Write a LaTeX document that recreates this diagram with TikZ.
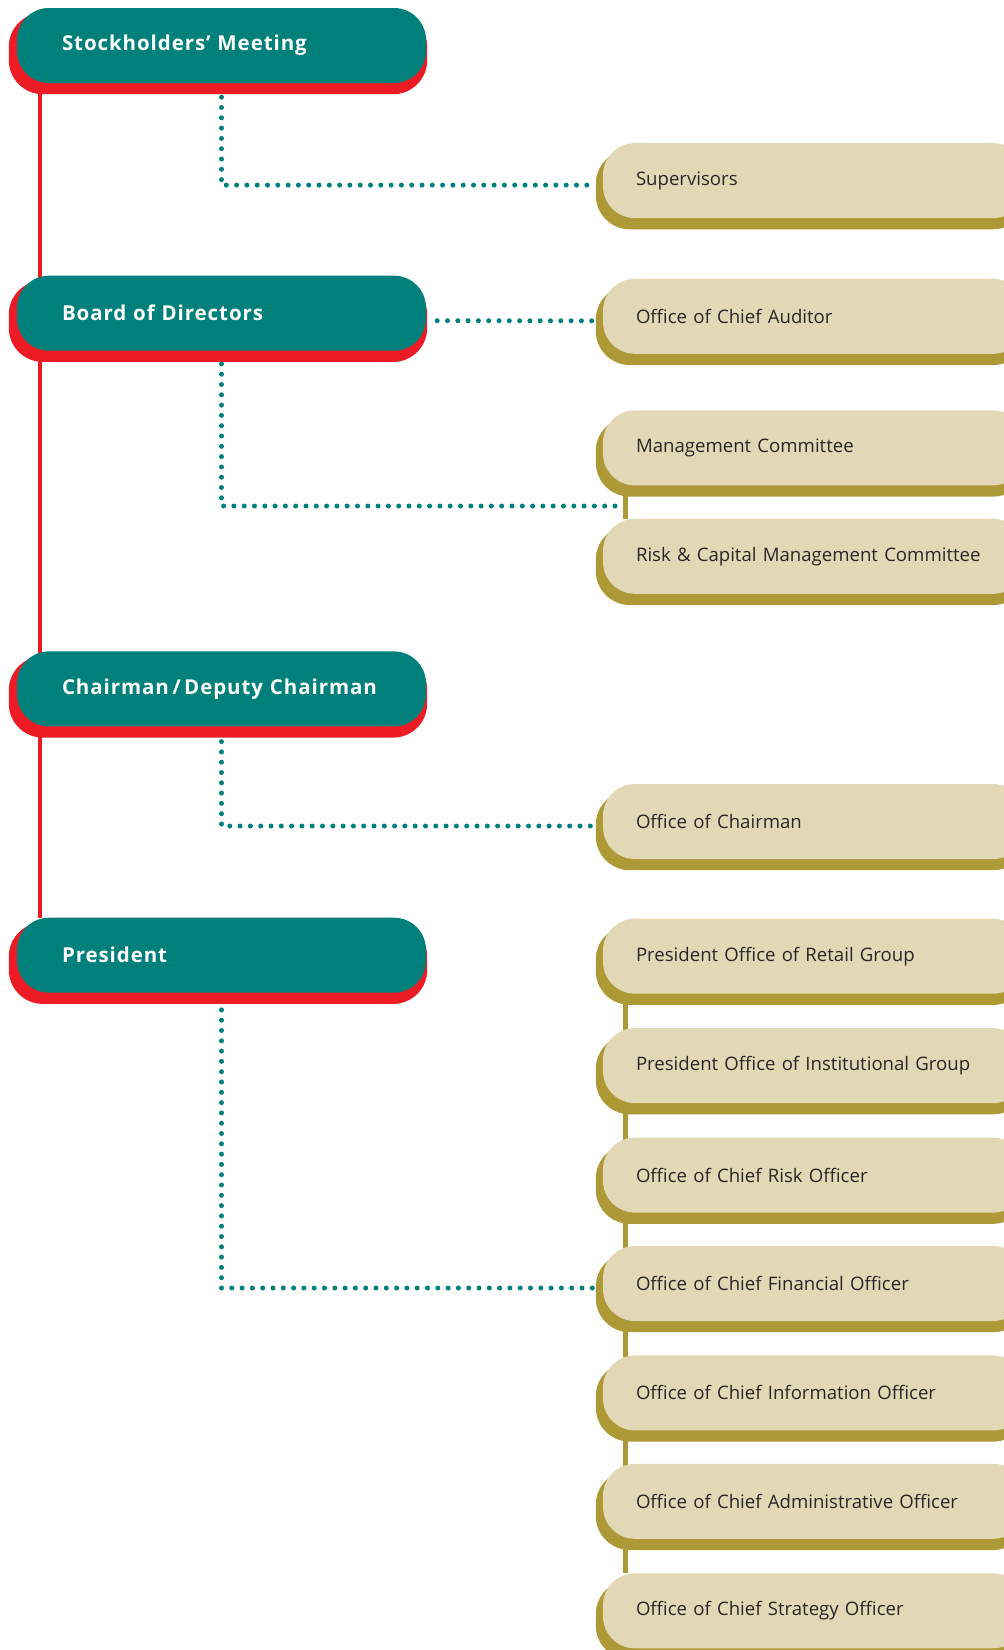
\documentclass[tikz,border=0pt]{standalone}
\usepackage{fontspec}
\setmainfont{Open Sans}
\newfontfamily\headfont[LetterSpace=4.5]{Open Sans}
\usepackage{tikz}
\usetikzlibrary{positioning,backgrounds,calc}
\definecolor{teal0}{HTML}{00807A}
\definecolor{red0}{HTML}{ED1C24}
\definecolor{beige0}{HTML}{E2D8B6}
\definecolor{gold0}{HTML}{AE9937}
\definecolor{ink0}{HTML}{2A2627}
\begin{document}
\begin{tikzpicture}[x=1pt, y=-1pt,
  head/.style={fill=teal0, text=white, rounded corners=32pt, minimum height=75pt,
    text width=319pt, inner xsep=45pt, inner ysep=0pt, align=left,
    font=\headfont\bfseries\fontsize{20.5}{24}\selectfont},
  unit/.style={fill=beige0, text=ink0, rounded corners=32pt, minimum height=75pt,
    text width=356pt, inner xsep=33pt, inner ysep=0pt, align=left,
    font=\fontsize{18.6}{22}\selectfont},
  redshd/.style={fill=red0, rounded corners=34pt},
  goldshd/.style={fill=gold0, rounded corners=34pt},
  redline/.style={draw=red0, line width=4pt},
  goldline/.style={draw=gold0, line width=5pt},
  dots/.style={draw=teal0, line width=5pt, line cap=round, dash pattern=on 0pt off 10.3pt}
]
\useasboundingbox (0,0) rectangle (1004,1650);

\node[head] (stock) at (221.5,45.5)  {Stockholders’ Meeting};
\node[head] (board) at (221.5,313.2) {Board of Directors};
\node[head] (chair) at (221.5,688.9) {Chairman\,/\,Deputy Chairman};
\node[head] (pres)  at (221.5,955.2) {President};

\node[unit] (sup)    at (814,180.6)  {Supervisors};
\node[unit] (aud)    at (814,316.3)  {Office of Chief Auditor};
\node[unit] (mgmt)   at (814,447.9)  {Management Committee};
\node[unit] (risk)   at (814,556.3)  {Risk \& Capital Management Committee};
\node[unit] (ochair) at (814,821.5)  {Office of Chairman};
\node[unit] (retail) at (814,956.2)  {President Office of Retail Group};
\node[unit] (inst)   at (814,1065.6) {President Office of Institutional Group};
\node[unit] (cro)    at (814,1175.1) {Office of Chief Risk Officer};
\node[unit] (cfo)    at (814,1283.5) {Office of Chief Financial Officer};
\node[unit] (cio)    at (814,1392.9) {Office of Chief Information Officer};
\node[unit] (cao)    at (814,1501.3) {Office of Chief Administrative Officer};
\node[unit] (cso)    at (814,1610.8) {Office of Chief Strategy Officer};

\begin{scope}[on background layer]
\draw[redline] ([xshift=23pt]stock.south west) -- ([xshift=23pt]pres.north west);
\draw[goldline] ([xshift=23pt]mgmt.south west) -- ([xshift=23pt]risk.north west);
\draw[goldline] ([xshift=23pt]retail.south west) -- ([xshift=23pt]cso.north west);
\foreach \n in {stock,board,chair,pres}
  \fill[redshd] ([xshift=-8pt,yshift=-5pt]\n.north west) rectangle ([xshift=1pt,yshift=-11pt]\n.south east);
\foreach \n in {sup,aud,mgmt,risk,ochair,retail,inst,cro,cfo,cio,cao,cso}
  \fill[goldshd] ([xshift=-7pt,yshift=-7pt]\n.north west) rectangle ([xshift=2pt,yshift=-11pt]\n.south east);
\end{scope}

\coordinate (mr) at (616,506);
\draw[dots] ([yshift=-14pt]stock.south) |- ([xshift=-9pt,yshift=-4.5pt]sup.west);
\draw[dots] ([xshift=11pt,yshift=-7.5pt]board.east) -- ([xshift=-9pt,yshift=-4.5pt]aud.west);
\draw[dots] ([yshift=-13pt]board.south) |- (mr);
\draw[dots] ([yshift=-15pt]chair.south) |- ([xshift=-9pt,yshift=-4.5pt]ochair.west);
\draw[dots] ([yshift=-17pt]pres.south) |- ([xshift=-9pt,yshift=-4.5pt]cfo.west);
\end{tikzpicture}
\end{document}
